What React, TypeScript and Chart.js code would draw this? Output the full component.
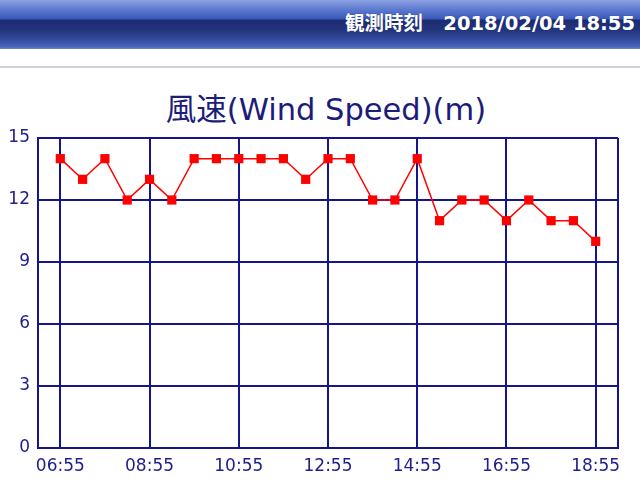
import React, { useEffect, useRef } from "react";
import { Chart, registerables } from "chart.js";

Chart.register(...registerables);

const times = [
  "06:55", "07:25", "07:55", "08:25", "08:55", "09:25", "09:55", "10:25", "10:55",
  "11:25", "11:55", "12:25", "12:55", "13:25", "13:55", "14:25", "14:55", "15:25",
  "15:55", "16:25", "16:55", "17:25", "17:55", "18:25", "18:55",
];
const windSpeed = [14, 13, 14, 12, 13, 12, 14, 14, 14, 14, 14, 13, 14, 14, 12, 12, 14, 11, 12, 12, 11, 12, 11, 11, 10];
const yTicks = [0, 3, 6, 9, 12, 15];
const xTickLabels = ["06:55", "08:55", "10:55", "12:55", "14:55", "16:55", "18:55"];
const titleText = "風速(Wind Speed)(m)";
const headerLabel = "観測時刻";
const headerTime = "2018/02/04 18:55";

const NAVY = "#16168a";
const TEXT = "#20208c";

export default function App() {
  const ref = useRef<HTMLCanvasElement | null>(null);

  useEffect(() => {
    document.body.style.margin = "0";
    const canvas = ref.current;
    if (!canvas) return;
    const points = windSpeed.map((v, i) => ({ x: i, y: v }));
    const tickIdx = xTickLabels.map((l) => times.indexOf(l));
    const chart = new Chart(canvas, {
      type: "line",
      data: {
        datasets: [
          {
            data: points,
            borderColor: "#ff0000",
            backgroundColor: "#ff0000",
            borderWidth: 1.5,
            pointStyle: "rect",
            pointRadius: 6.5,
            pointBorderWidth: 0,
            pointBackgroundColor: "#ff0000",
            tension: 0,
          },
        ],
      },
      options: {
        animation: false,
        responsive: false,
        maintainAspectRatio: false,
        layout: { padding: { top: 58, right: 22, left: 0, bottom: 0 } },
        plugins: {
          legend: { display: false },
          tooltip: { enabled: false },
          title: { display: false },
        },
        scales: {
          x: {
            type: "linear",
            min: -1,
            max: times.length,
            afterBuildTicks: (axis: any) => {
              axis.ticks = [-1, ...tickIdx, times.length].map((v) => ({ value: v }));
            },
            afterFit: (axis: any) => {
              axis.height = 32;
            },
            ticks: {
              autoSkip: false,
              maxRotation: 0,
              padding: 8,
              color: TEXT,
              font: { family: "'DejaVu Sans', sans-serif", size: 17 },
              callback: (v: any) => {
                const i = Number(v);
                return i >= 0 && i < times.length ? times[i] : "";
              },
            },
            grid: { color: NAVY, lineWidth: 2, drawTicks: false },
            border: { color: NAVY, width: 2 },
          },
          y: {
            min: 0,
            max: 15,
            afterBuildTicks: (axis: any) => {
              axis.ticks = yTicks.map((v) => ({ value: v }));
            },
            afterFit: (axis: any) => {
              axis.width = 38;
            },
            ticks: {
              padding: 8,
              color: TEXT,
              font: { family: "'DejaVu Sans', sans-serif", size: 17 },
            },
            grid: { color: NAVY, lineWidth: 2, drawTicks: false },
            border: { color: NAVY, width: 2 },
          },
        },
      },
    });
    return () => chart.destroy();
  }, []);

  return (
    <div style={{ position: "fixed", left: 0, top: 0, width: 640, height: 480, background: "#ffffff", overflow: "hidden" }}>
      <div
        style={{
          position: "absolute",
          left: 0,
          top: 0,
          width: 640,
          height: 49,
          background:
            "linear-gradient(to bottom, #8ca2e2 0px, #5a78cf 10px, #3a58b8 19px, #1c2c72 20px, #22347c 30px, #3752a8 42px, #4a68bf 47px, #7088d0 49px)",
        }}
      >
        <div
          style={{
            position: "absolute",
            right: 5,
            top: 12,
            color: "#ffffff",
            fontFamily: "'DejaVu Sans', 'Noto Sans CJK JP', sans-serif",
            fontWeight: "bold",
            fontSize: 19.5,
            lineHeight: "24px",
            whiteSpace: "pre",
            textShadow: "0 0 1px #20306a",
          }}
        >
          {headerLabel + "   " + headerTime}
        </div>
      </div>
      <div style={{ position: "absolute", left: 0, top: 66, width: 640, height: 2, background: "#cfd2da" }} />
      <div
        style={{
          position: "absolute",
          left: 6,
          top: 92,
          width: 640,
          textAlign: "center",
          color: "#1c1c7a",
          fontFamily: "'DejaVu Sans', 'Noto Sans CJK JP', sans-serif",
          fontSize: 30.5,
          lineHeight: "36px",
          whiteSpace: "pre",
        }}
      >
        {titleText}
      </div>
      <canvas ref={ref} width={640} height={400} style={{ position: "absolute", left: 0, top: 80, width: 640, height: 400 }} />
    </div>
  );
}
